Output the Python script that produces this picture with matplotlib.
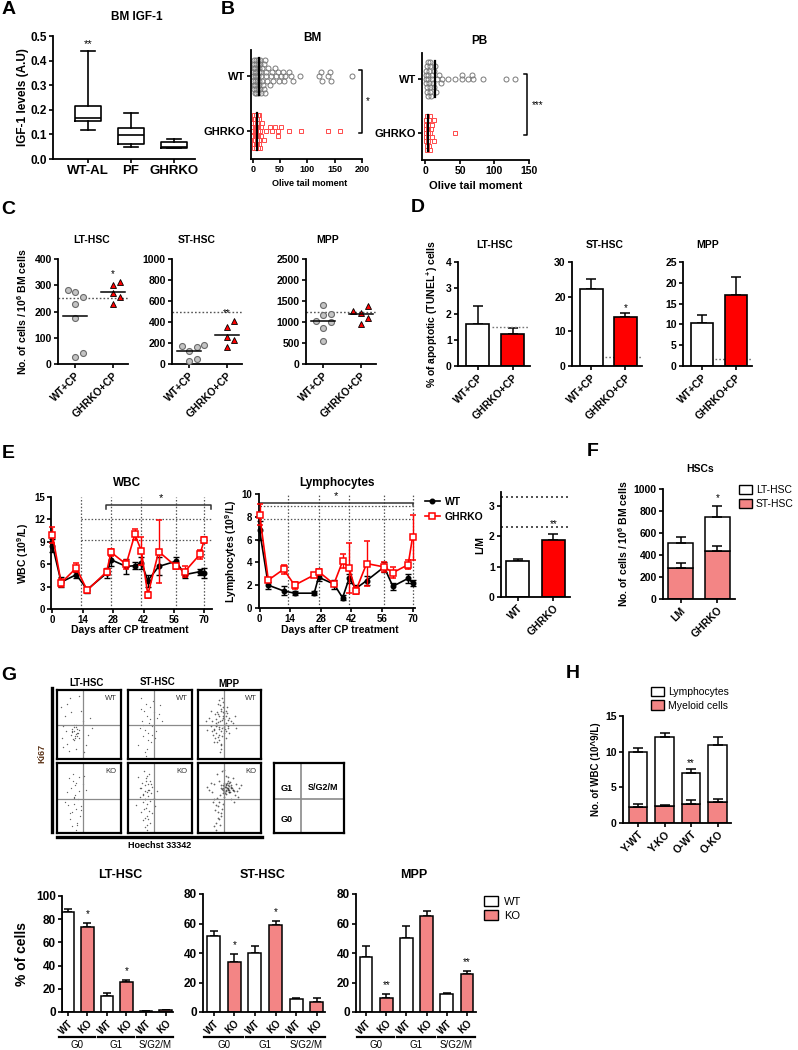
"""
GHRKO haematopoietic stem cell figure (panels A-H)
"""
import numpy as np
import matplotlib
matplotlib.use("Agg")
import matplotlib.pyplot as plt
import matplotlib.transforms as mtrans
from matplotlib.lines import Line2D
from matplotlib.patches import Patch

plt.rcParams["font.family"] = ["Liberation Sans", "DejaVu Sans"]
plt.rcParams["font.weight"] = "bold"
plt.rcParams["axes.labelweight"] = "bold"
plt.rcParams["mathtext.fontset"] = "custom"
plt.rcParams["mathtext.rm"] = "Liberation Sans:bold"
plt.rcParams["mathtext.bf"] = "Liberation Sans:bold"
plt.rcParams["mathtext.it"] = "Liberation Sans:italic"
plt.rcParams["axes.linewidth"] = 1.3

RED = "#ff0000"
SALMON = "#f38585"

# ── A: BM IGF-1 (box stats) ─────────────────────────
A_GROUPS = ["WT-AL", "PF", "GHRKO"]
A_MIN = [0.117, 0.049, 0.044]
A_Q1 = [0.155, 0.060, 0.046]
A_MED = [0.165, 0.097, 0.048]
A_Q3 = [0.215, 0.128, 0.068]
A_MAX = [0.440, 0.188, 0.083]

# ── B: comet assay olive tail moment ─────────────────
BM_WT = [0.5, 1, 1.5, 2, 2, 2.5, 3, 3, 3.5, 4, 4, 4.5, 5, 5, 5.5, 6, 6, 6.5, 7, 7,
         7.5, 8, 8.5, 9, 9, 9.5, 10, 10.5, 11, 11, 12, 12.5, 13, 13.5, 14, 15, 15.5,
         16, 17, 18, 19, 20, 21, 22, 23, 24, 25, 27, 29, 31, 33, 36, 38, 40, 43, 46,
         48, 52, 55, 58, 60, 67, 70, 73, 86, 122, 125, 127, 138, 141, 144, 182]
BM_KO = [0.5, 1, 1, 1.5, 2, 2, 2.5, 3, 3, 3.5, 4, 4, 4.5, 5, 5, 5.5, 6, 6, 6.5, 7, 7,
         7.5, 8, 8, 8.5, 9, 9, 9.5, 10, 10, 10.5, 11, 11.5, 12, 12, 13, 14, 15, 16, 18,
         20, 25, 31, 35, 40, 46, 46, 52, 67, 89, 138, 159]
PB_WT = [0.5, 1, 1, 1.5, 2, 2, 2.5, 3, 3, 4, 4, 5, 5, 6, 6, 7, 7, 8, 9, 10, 11, 12,
         13, 14, 15, 17, 19, 22, 24, 33, 43, 53, 53, 62, 67, 69, 84, 117, 129]
PB_KO = [0.5, 0.5, 1, 1, 1.5, 1.5, 2, 2, 2.5, 3, 3, 3.5, 4, 4, 5, 5, 6, 6, 7, 8, 9,
         10, 12, 13, 43]
B_MEDIAN = {"BM": [8, 12], "PB": [3, 14]}   # [GHRKO, WT]

# ── C: cell numbers after CP ─────────────────────────
C_TITLES = ["LT-HSC", "ST-HSC", "MPP"]
C_WT = [[282, 274, 256, 229, 175, 25, 42],
        [165, 178, 127, 175, 32, 48],
        [1413, 992, 1175, 1198, 857, 540, 1032]]
C_KO = [[302, 311, 270, 254, 230],
        [352, 406, 257, 225, 162],
        [1270, 1214, 1389, 952, 1095]]
C_REF = [250, 500, 1250]
C_YMAX = [400, 1000, 2500]
C_STEP = [100, 200, 500]
C_STARS = ["*", "**", ""]

# ── D: apoptosis (TUNEL+) ────────────────────────────
D_WT = [1.63, 22.3, 10.4]
D_WT_ERR = [0.67, 2.8, 1.8]
D_KO = [1.22, 14.1, 17.1]
D_KO_ERR = [0.25, 1.1, 4.3]
D_REF = [1.5, 2.5, 1.8]
D_YMAX = [4, 30, 25]
D_STEP = [1, 10, 5]
D_STARS = ["", "*", ""]

# ── E: blood counts after CP ─────────────────────────
E_DAYS = [0, 4, 11, 16, 25, 27, 34, 38, 41, 44, 49, 57, 61, 68, 70]
WBC_WT = [8.5, 3.6, 4.6, 2.6, 4.8, 6.6, 5.7, 5.8, 6.2, 3.8, 5.7, 6.4, 4.6, 5.0, 4.8]
WBC_WT_ERR = [0.9, 0.7, 0.4, 0.4, 0.7, 0.8, 1.0, 0.5, 0.8, 0.8, 1.2, 0.6, 0.5, 0.4, 0.7]
WBC_KO = [9.9, 3.5, 5.5, 2.5, 5.0, 7.6, 6.0, 10.0, 7.8, 1.9, 7.7, 5.7, 5.0, 7.3, 9.2]
WBC_KO_ERR = [1.1, 0.5, 0.6, 0.3, 0.4, 0.5, 0.6, 0.7, 1.9, 0.4, 4.2, 0.3, 0.7, 0.6, 0.4]
LY_WT = [6.8, 2.0, 1.5, 1.3, 1.3, 2.7, 2.1, 0.9, 2.6, 1.7, 2.4, 3.6, 1.9, 2.6, 2.2]
LY_WT_ERR = [0.8, 0.3, 0.4, 0.2, 0.2, 0.3, 0.4, 0.2, 0.4, 0.3, 0.4, 0.4, 0.3, 0.4, 0.3]
LY_KO = [8.2, 2.45, 3.4, 2.0, 2.9, 3.2, 2.1, 4.1, 3.5, 1.5, 3.9, 3.6, 3.1, 3.8, 6.2]
LY_KO_ERR = [0.9, 0.2, 0.4, 0.3, 0.2, 0.2, 0.2, 0.6, 2.2, 0.3, 2.0, 0.4, 0.5, 0.4, 2.0]
E_VLINES = [13, 27, 41, 57, 70]
WBC_HREF = [12, 9.25]
LY_HREF = [8.95, 7.8]
LM_GROUPS = ["WT", "GHRKO"]
LM_VAL = [1.18, 1.9]
LM_ERR = [0.09, 0.17]
LM_REF = [3.3, 2.3]

# ── F: HSC composition ───────────────────────────────
F_GROUPS = ["LM", "GHRKO"]
F_ST = [280, 435]
F_ST_ERR = [50, 50]
F_TOTAL = [505, 750]
F_TOTAL_ERR = [55, 100]

# ── G: cell cycle (flow dots, 0-100 scale) ──────────
LT_WT_FX = [24, 27, 30, 22, 33, 28, 25, 31, 26, 29, 35, 23, 32, 27, 30, 26, 28, 34, 24, 31,
            12, 8, 15, 40, 45, 18, 55, 10, 38, 20, 16, 48, 30, 6, 14, 42, 22, 52, 9, 35]
LT_WT_FY = [44, 40, 47, 35, 38, 31, 29, 43, 50, 36, 42, 39, 33, 27, 49, 46, 34, 30, 41, 37,
            62, 30, 80, 55, 20, 12, 45, 48, 70, 88, 22, 35, 15, 75, 40, 10, 68, 60, 18, 92]
LT_KO_FX = [25, 30, 22, 35, 28, 18, 33, 26, 40, 15, 29, 24, 36, 20, 31, 27, 45, 12, 34, 23,
            38, 28, 21, 32, 26, 42, 17, 30, 25, 37]
LT_KO_FY = [85, 72, 65, 60, 55, 78, 48, 42, 70, 58, 35, 30, 25, 20, 15, 52, 62, 45, 80, 10,
            38, 68, 28, 12, 50, 82, 40, 5, 75, 33]
ST_WT_FX = [20, 28, 35, 25, 40, 30, 45, 22, 33, 38, 18, 27, 50, 32, 24, 42, 36, 15, 29, 48,
            26, 39, 34, 21, 44, 31, 23, 37, 28, 53]
ST_WT_FY = [88, 80, 75, 70, 68, 62, 60, 55, 52, 48, 45, 42, 78, 38, 33, 30, 25, 20, 15, 65,
            10, 84, 58, 72, 40, 28, 50, 35, 5, 55]
ST_KO_FX = [25, 30, 28, 35, 22, 32, 27, 38, 20, 33, 26, 29, 36, 24, 31, 18, 40, 27, 34, 23,
            30, 12, 42, 28, 25, 33, 21, 37, 29, 26, 32, 24, 35, 30, 27, 19, 36, 28, 31, 23,
            15, 45, 26, 33, 29]
ST_KO_FY = [88, 82, 78, 75, 72, 70, 68, 66, 64, 62, 60, 58, 57, 55, 53, 52, 50, 48, 46, 44,
            42, 40, 38, 36, 34, 32, 30, 28, 25, 22, 20, 18, 15, 12, 8, 65, 70, 74, 62, 56,
            80, 60, 48, 85, 5]
MPP_WT_FX = [30, 35, 40, 38, 33, 28, 42, 45, 36, 31, 26, 39, 44, 48, 34, 29, 37, 41, 32, 25,
             50, 46, 27, 36, 43, 22, 38, 33, 47, 40, 30, 35, 52, 20, 44, 28, 39, 34, 41, 37,
             18, 55, 24, 31, 45, 36, 29, 42, 33, 48, 15, 38, 26, 58, 35, 43, 30, 21, 40, 34,
             60, 12, 46, 32, 27, 50, 38, 23, 36, 44]
MPP_WT_FY = [50, 55, 60, 45, 62, 48, 58, 52, 40, 65, 42, 68, 63, 57, 35, 38, 70, 47, 53, 44,
             60, 66, 30, 72, 50, 55, 33, 28, 45, 75, 25, 78, 55, 48, 40, 58, 62, 43, 67, 20,
             60, 52, 35, 80, 70, 15, 52, 37, 85, 48, 42, 57, 25, 62, 10, 44, 68, 70, 82, 46,
             45, 55, 75, 32, 65, 38, 88, 40, 22, 30]
MPP_KO_FX = [40, 45, 50, 42, 47, 52, 38, 44, 49, 55, 41, 46, 51, 43, 48, 53, 39, 45, 50, 36,
             54, 42, 47, 44, 57, 40, 49, 46, 51, 43, 37, 52, 45, 48, 41, 56, 44, 50, 39, 47,
             30, 34, 28, 38, 32, 36, 25, 40, 33, 29, 35, 31, 27, 37, 42, 26, 22, 60, 62, 58,
             20, 65, 55, 48, 30, 18, 52, 64, 24, 45, 33, 38, 28, 57, 35, 15, 68, 41, 31, 26]
MPP_KO_FY = [64, 66, 62, 60, 68, 65, 63, 70, 67, 61, 58, 72, 59, 66, 63, 69, 61, 56, 71, 65,
             64, 67, 74, 62, 60, 69, 58, 65, 73, 57, 68, 66, 60, 64, 72, 62, 68, 58, 57, 61,
             50, 45, 40, 35, 30, 25, 48, 42, 20, 15, 55, 38, 33, 28, 52, 10, 58, 70, 60, 55,
             72, 65, 78, 80, 85, 62, 48, 52, 44, 82, 75, 88, 5, 45, 12, 66, 68, 90, 22, 70]

# ── G: cell cycle bars ───────────────────────────────
G_PHASES = ["G0", "G1", "S/G2/M"]
G_LT_WT = [86, 14, 0.5]
G_LT_WT_ERR = [2.5, 2.0, 0.2]
G_LT_KO = [73.5, 25.5, 1.3]
G_LT_KO_ERR = [3.5, 2.5, 0.7]
G_ST_WT = [51.5, 40, 8.5]
G_ST_WT_ERR = [3.5, 4.5, 1.0]
G_ST_KO = [34, 59, 7]
G_ST_KO_ERR = [5.5, 2.5, 2.7]
G_MPP_WT = [37.5, 50.5, 12]
G_MPP_WT_ERR = [7.5, 7.5, 0.6]
G_MPP_KO = [9.5, 65, 25.5]
G_MPP_KO_ERR = [2.5, 3.5, 2.5]

# ── H: WBC composition ──────────────────────────────
H_GROUPS = ["Y-WT", "Y-KO", "O-WT", "O-KO"]
H_TOTAL = [10.0, 12.0, 7.0, 11.0]
H_TOTAL_ERR = [0.5, 0.6, 0.6, 1.0]
H_MYEL = [2.3, 2.35, 2.7, 3.0]
H_MYEL_ERR = [0.3, 0.15, 0.5, 0.3]

W, H = 798, 1050
fig = plt.figure(figsize=(W / 100, H / 100), dpi=100)


# ── helpers ─────────────────────────────────────────
def axpx(x0, y0, x1, y1):
    return fig.add_axes([x0 / W, 1 - y1 / H, (x1 - x0) / W, (y1 - y0) / H])


def ftext(x, y, s, **kw):
    kw.setdefault("ha", "center")
    kw.setdefault("va", "center")
    fig.text(x / W, 1 - y / H, s, **kw)


def fline(xs, ys, **kw):
    fig.add_artist(Line2D([x / W for x in xs], [1 - y / H for y in ys],
                          transform=fig.transFigure, color="k", **kw))


def prism(ax, fs=7):
    for s in ("top", "right"):
        ax.spines[s].set_visible(False)
    ax.tick_params(direction="out", length=3, width=1.2, labelsize=fs, pad=1.5)


def up_err(ax, x, y, e, cap=3, zorder=3):
    ax.errorbar(x, y, yerr=[np.zeros(len(e)), e], fmt="none", ecolor="k",
                elinewidth=1.1, capsize=cap, capthick=1.1, zorder=zorder)


def swarm(ax, vals, center, diam, horizontal=False, band=None):
    """beeswarm offsets (data units on the category axis)"""
    vals = np.asarray(vals, float)
    T = ax.transData
    if horizontal:
        pv = T.transform(np.c_[vals, np.full(len(vals), center)])[:, 0]
        unit = T.transform([[0, center + 1]])[0, 1] - T.transform([[0, center]])[0, 1]
    else:
        pv = T.transform(np.c_[np.full(len(vals), center), vals])[:, 1]
        unit = T.transform([[center + 1, 0]])[0, 0] - T.transform([[center, 0]])[0, 0]
    cands = [0]
    for k in range(1, 30):
        cands += [k, -k]
    cands = [c * diam for c in cands if band is None or abs(c * diam) <= band]
    placed, off = [], np.zeros(len(vals))
    for i in np.argsort(vals):
        best, bestd = cands[0], -1
        for o in cands:
            d = min([np.hypot(pv[i] - p, o - q) for p, q in placed] or [1e9])
            if d >= diam:
                best = o
                break
            if d > bestd:
                best, bestd = o, d
        placed.append((pv[i], best))
        off[i] = best
    return center + off / unit


def star(ax, x, y, s, fs=7):
    ax.text(x, y, s, ha="center", va="center", fontsize=fs, fontweight="normal")


# ── panel letters ───────────────────────────────────
for lab, x, y in [("A", 9, 9), ("B", 228, 9), ("C", 8, 210), ("D", 418, 208),
                  ("E", 8, 454), ("F", 593, 452), ("G", 9, 675), ("H", 573, 674)]:
    ftext(x, y, lab, fontsize=14)

# ── A ───────────────────────────────────────────────
ax = axpx(53, 36, 195, 159)
stats = [dict(whislo=a, q1=b, med=c, q3=d, whishi=e, label=g)
         for a, b, c, d, e, g in zip(A_MIN, A_Q1, A_MED, A_Q3, A_MAX, A_GROUPS)]
lp = dict(color="k", lw=1.2)
ax.bxp(stats, positions=[1, 2, 3], widths=0.62, capwidths=0.31, showfliers=False,
       boxprops=lp, whiskerprops=lp, capprops=lp, medianprops=lp)
ax.set_xlim(0.19, 3.49)
ax.set_ylim(0, 0.5)
ax.set_yticks(np.arange(0, 0.51, 0.1))
ax.set_yticklabels([f"{v:.1f}" for v in np.arange(0, 0.51, 0.1)])
prism(ax, 8.5)
ax.tick_params(axis="x", labelsize=9.5)
ax.set_ylabel("IGF-1 levels (A.U)", fontsize=8.5, labelpad=1)
star(ax, 1, 0.468, "**", 8)
ftext(137, 17, "BM IGF-1", fontsize=8.5)

# ── B ───────────────────────────────────────────────
for name, box, xlim, xt, wt, ko, br, fsx in [
        ("BM", (251, 50, 362, 159), (-3, 200), [0, 50, 100, 150, 200], BM_WT, BM_KO,
         (200, 1.11, -0.02, 211, "*"), 6.5),
        ("PB", (422, 53, 529, 160), (-5, 150), [0, 50, 100, 150], PB_WT, PB_KO,
         (147, 1.09, -0.04, 162, "***"), 7.5)]:
    ax = axpx(*box)
    ax.set_xlim(*xlim)
    ax.set_ylim(-0.5, 1.48)
    prism(ax, fsx)
    ax.set_xticks(xt)
    ax.set_yticks([0, 1])
    ax.set_yticklabels(["GHRKO", "WT"], fontsize=8)
    yw = swarm(ax, wt, 1, 4.2, horizontal=True, band=17)
    yk = swarm(ax, ko, 0, 4.2, horizontal=True, band=17)
    ax.plot(wt, yw, "o", ms=3.6, mfc="none", mec="#7a7a7a", mew=0.7, clip_on=False)
    ax.plot(ko, yk, "s", ms=3.4, mfc="none", mec="#ff4a4a", mew=0.7, clip_on=False)
    for yc, m in zip([0, 1], B_MEDIAN[name]):
        ax.plot([m, m], [yc - 0.33, yc + 0.33], color="k", lw=1.6, zorder=4)
    bx, y1, y0, sx, s = br
    tick = (xlim[1] - xlim[0]) * 0.03
    ax.plot([bx - tick, bx, bx, bx - tick], [y1, y1, y0, y0], color="k", lw=1.1,
            clip_on=False)
    ax.text(sx, (y1 + y0) / 2, s, ha="center", va="center", fontsize=7,
            fontweight="normal", clip_on=False)
ftext(312, 38, "BM", fontsize=8.5)
ftext(479, 41, "PB", fontsize=8.5)
ftext(310, 183, "Olive tail moment", fontsize=6.5)
ftext(476, 186, "Olive tail moment", fontsize=8)

# ── C ───────────────────────────────────────────────
C_BOX = [(58, 259, 128, 364), (172, 259, 242, 364), (306, 259, 376, 364)]
C_TX = [92, 197, 328]
for i in range(3):
    ax = axpx(*C_BOX[i])
    ax.set_xlim(-0.45, 1.4)
    ax.set_ylim(0, C_YMAX[i])
    prism(ax, 7.5)
    ax.set_yticks(np.arange(0, C_YMAX[i] + 1, C_STEP[i]))
    ax.set_xticks([0, 1])
    ax.set_xticklabels(["WT+CP", "GHRKO+CP"], rotation=45, ha="right",
                       rotation_mode="anchor", fontsize=7.5)
    ax.axhline(C_REF[i], ls=(0, (1.2, 1.5)), color="#555", lw=1)
    xw = swarm(ax, C_WT[i], 0, 7.5)
    xk = swarm(ax, C_KO[i], 1, 7.5)
    ax.plot(xw, C_WT[i], "o", ms=4.3, mfc="#c4c4c4", mec="#6a6a6a", mew=0.8,
            clip_on=False, zorder=3)
    ax.plot(xk, C_KO[i], "^", ms=5, mfc=RED, mec="k", mew=0.6, clip_on=False, zorder=3)
    for xc, v in zip([0, 1], [C_WT[i], C_KO[i]]):
        ax.plot([xc - 0.31, xc + 0.31], [np.mean(v)] * 2, color="k", lw=1.1, zorder=4)
    if C_STARS[i]:
        star(ax, 1, max(C_KO[i]) + C_YMAX[i] * 0.08, C_STARS[i])
    ftext(C_TX[i], 240, C_TITLES[i], fontsize=7.5)
    if i == 0:
        ax.set_ylabel(r"No. of cells / 10$^{\mathbf{6}}$ BM cells", fontsize=7.5,
                      labelpad=4)

# ── D ───────────────────────────────────────────────
D_BOX = [(458, 262, 530, 366), (572, 262, 642, 366), (683, 262, 752, 366)]
D_TX = [495, 605, 708]
for i in range(3):
    ax = axpx(*D_BOX[i])
    ax.set_xlim(-0.57, 1.49)
    ax.set_ylim(0, D_YMAX[i])
    prism(ax, 7.5)
    ax.set_yticks(np.arange(0, D_YMAX[i] + 0.1, D_STEP[i]))
    ax.bar([0, 1], [D_WT[i], D_KO[i]], width=0.66, color=["white", RED],
           edgecolor="k", lw=1.2, zorder=2)
    up_err(ax, [0, 1], [D_WT[i], D_KO[i]], [D_WT_ERR[i], D_KO_ERR[i]], cap=3.5, zorder=1)
    ax.hlines(D_REF[i], 0.4, 1.49, linestyles=(0, (1.2, 1.5)), color="#777", lw=1,
              zorder=1)
    ax.set_xticks([0, 1])
    ax.set_xticklabels(["WT+CP", "GHRKO+CP"], rotation=45, ha="right",
                       rotation_mode="anchor", fontsize=7.5)
    if D_STARS[i]:
        star(ax, 1, D_KO[i] + D_KO_ERR[i] + D_YMAX[i] * 0.05, D_STARS[i])
    ftext(D_TX[i], 245, C_TITLES[i], fontsize=7.5)
    if i == 0:
        ax.set_ylabel(r"% of apoptotic (TUNEL$^{\mathbf{+}}$) cells", fontsize=7.5,
                      labelpad=4)

# ── E: line plots ───────────────────────────────────
for box, xlim, ymax, ystep, wt, wte, ko, koe, href, hx0, br, title, tx, ylab in [
        ((51.4, 497, 212, 609), (-0.5, 73.6), 15, 3, WBC_WT, WBC_WT_ERR, WBC_KO,
         WBC_KO_ERR, WBC_HREF, 13, (24.7, 73.3, 13.9, 13.4, 50, 14.9), "WBC", 127,
         r"WBC (10$^{\mathbf{9}}$/L)"),
        ((258.5, 494, 414.7, 608), (-0.5, 71), 10, 2, LY_WT, LY_WT_ERR, LY_KO,
         LY_KO_ERR, LY_HREF, 0, (0.3, 70, 9.2, 9.0, 35, 9.85), "Lymphocytes", 337,
         r"Lymphocytes (10$^{\mathbf{9}}$/L)")]:
    ax = axpx(*box)
    ax.set_xlim(*xlim)
    ax.set_ylim(0, ymax)
    prism(ax, 7)
    ax.tick_params(axis="x", pad=1)
    ax.set_xticks([0, 14, 28, 42, 56, 70])
    ax.set_yticks(np.arange(0, ymax + 0.1, ystep))
    for d in E_VLINES:
        ax.axvline(d, ls=(0, (1.2, 1.5)), color="#555", lw=0.9, zorder=1)
    for h in href:
        ax.hlines(h, hx0, xlim[1], linestyles=(0, (1.2, 1.5)), color="#555", lw=0.9,
                  zorder=1)
    ax.errorbar(E_DAYS, wt, yerr=wte, color="k", lw=1.2, marker="o", ms=3.3,
                capsize=2, elinewidth=1, capthick=1, zorder=3, clip_on=False)
    ax.errorbar(E_DAYS, ko, yerr=koe, color=RED, lw=1.2, marker="s", ms=4.3,
                mfc="white", mec=RED, mew=1.1, capsize=2, elinewidth=1, capthick=1,
                zorder=4, clip_on=False)
    x0, x1, yb, ye, sx, sy = br
    ax.plot([x0, x0, x1, x1], [ye, yb, yb, ye], color="#333", lw=1.1, clip_on=False)
    star(ax, sx, sy, "*", 8)
    ax.set_ylabel(ylab, fontsize=7.5, labelpad=2)
    ftext(tx, 483, title, fontsize=8.5)
    ftext(tx + 3, 630, "Days after CP treatment", fontsize=7.5)

h_wt = Line2D([], [], color="k", lw=1.2, marker="o", ms=3.3)
h_ko = Line2D([], [], color=RED, lw=1.2, marker="s", ms=4.3, mfc="white", mew=1.1)
fig.legend([h_wt, h_ko], ["WT", "GHRKO"], loc="upper left",
           bbox_to_anchor=(425 / W, 1 - 497 / H), frameon=False, fontsize=7.5,
           handlelength=1.4, handletextpad=0.5, labelspacing=0.45, borderpad=0,
           borderaxespad=0)

# L/M ratio
ax = axpx(501, 492, 570, 597)
ax.set_xlim(-0.47, 1.47)
ax.set_ylim(0, 3.47)
prism(ax, 7.5)
ax.set_yticks([0, 1, 2, 3])
ax.bar([0, 1], LM_VAL, width=0.65, color=["white", RED], edgecolor="k", lw=1.2, zorder=2)
up_err(ax, [0, 1], LM_VAL, LM_ERR, cap=3.5, zorder=1)
for r in LM_REF:
    ax.axhline(r, ls=(0, (1.2, 1.8)), color="#333", lw=1.2, zorder=1)
star(ax, 1, 2.42, "**")
ax.set_xticks([0, 1])
ax.set_xticklabels(LM_GROUPS, rotation=45, ha="right", rotation_mode="anchor",
                   fontsize=7.5)
ax.set_ylabel("L/M", fontsize=7.5, labelpad=3)

# ── F ───────────────────────────────────────────────
ax = axpx(663, 489, 735, 599)
ax.set_xlim(-0.48, 1.48)
ax.set_ylim(0, 1000)
prism(ax, 7.5)
ax.set_yticks(np.arange(0, 1001, 200))
lt = [t - s for t, s in zip(F_TOTAL, F_ST)]
ax.bar([0, 1], F_ST, width=0.68, color=SALMON, edgecolor="k", lw=1.1, zorder=2)
ax.bar([0, 1], lt, bottom=F_ST, width=0.68, color="white", edgecolor="k", lw=1.1,
       zorder=2)
up_err(ax, [0, 1], F_ST, F_ST_ERR, cap=3.5)
up_err(ax, [0, 1], F_TOTAL, F_TOTAL_ERR, cap=3.5)
star(ax, 1, 915, "*")
ax.set_xticks([0, 1])
ax.set_xticklabels(F_GROUPS, rotation=45, ha="right", rotation_mode="anchor",
                   fontsize=7.5)
ax.set_ylabel(r"No. of cells / 10$^{\mathbf{6}}$ BM cells", fontsize=7.5, labelpad=3)
ftext(700, 469, "HSCs", fontsize=7.5)
fig.legend([Patch(fc="white", ec="k", lw=1), Patch(fc=SALMON, ec="k", lw=1)],
           ["LT-HSC", "ST-HSC"], loc="upper left", bbox_to_anchor=(739 / W, 1 - 485 / H),
           frameon=False, prop=dict(size=7.5, weight="normal"), handlelength=1.2,
           handleheight=1.0, handletextpad=0.4, labelspacing=0.35, borderpad=0,
           borderaxespad=0)

# ── G: flow plots ───────────────────────────────────
FLOWS = [((57, 690, 121, 759), LT_WT_FX, LT_WT_FY, "WT", 1.0),
         ((128, 690, 192, 759), ST_WT_FX, ST_WT_FY, "WT", 0.9),
         ((198, 690, 261, 759), MPP_WT_FX, MPP_WT_FY, "WT", 1.4),
         ((57, 763, 121, 833), LT_KO_FX, LT_KO_FY, "KO", 0.9),
         ((128, 763, 192, 833), ST_KO_FX, ST_KO_FY, "KO", 1.1),
         ((198, 763, 261, 833), MPP_KO_FX, MPP_KO_FY, "KO", 1.6)]
for box, fx, fy, tag, dot in FLOWS:
    ax = axpx(*box)
    ax.set_xlim(0, 100)
    ax.set_ylim(0, 100)
    ax.set_xticks([])
    ax.set_yticks([])
    for s in ax.spines.values():
        s.set_linewidth(1.6)
    ax.axvline(41, color="#8a8a8a", lw=0.9)
    ax.axhline(49, color="#8a8a8a", lw=0.9)
    ax.scatter(fx, fy, s=dot, c="#222", alpha=0.7, lw=0)
    ax.text(93, 93, tag, ha="right", va="top", fontsize=5.5, fontweight="normal",
            color="#333")
ax = axpx(274, 763, 344, 833)
ax.set_xlim(0, 100)
ax.set_ylim(0, 100)
ax.set_xticks([])
ax.set_yticks([])
for s in ax.spines.values():
    s.set_linewidth(1.6)
ax.axvline(39, color="#8a8a8a", lw=1.2)
ax.axhline(48, color="#8a8a8a", lw=1.2)
ax.text(10, 64, "G1", va="center", fontsize=6.5)
ax.text(48, 65, "S/G2/M", va="center", fontsize=6.5)
ax.text(10, 20, "G0", va="center", fontsize=6.5)
ftext(87, 683, "LT-HSC", fontsize=7)
ftext(158, 682, "ST-HSC", fontsize=7)
ftext(229, 684, "MPP", fontsize=7)
ftext(42, 753, "Ki67", fontsize=6.5, rotation=90, color="#5c3317")
fline([52, 52], [688, 832], lw=2.4)
fline([57, 262], [837, 837], lw=2.4)
ftext(160, 846, "Hoechst 33342", fontsize=6.5)

# ── G: cell cycle bars ──────────────────────────────
G_SETS = [((62, 896, 173, 1012), (-0.3, 5.38), 100, "LT-HSC", 120, G_LT_WT, G_LT_WT_ERR,
           G_LT_KO, G_LT_KO_ERR, [("*", 1), ("*", 3)]),
          ((203, 894, 325, 1012), (-0.52, 5.4), 80, "ST-HSC", 263, G_ST_WT, G_ST_WT_ERR,
           G_ST_KO, G_ST_KO_ERR, [("*", 1), ("*", 3)]),
          ((356, 894, 476, 1012), (-0.5, 5.45), 80, "MPP", 414, G_MPP_WT, G_MPP_WT_ERR,
           G_MPP_KO, G_MPP_KO_ERR, [("**", 1), ("**", 5)])]
for box, xlim, ymax, title, tx, wt, wte, ko, koe, stars in G_SETS:
    ax = axpx(*box)
    ax.set_xlim(*xlim)
    ax.set_ylim(0, ymax)
    prism(ax, 8.5)
    ax.set_yticks(np.arange(0, ymax + 1, 20))
    x = np.arange(6)
    vals = [v for p in zip(wt, ko) for v in p]
    errs = [v for p in zip(wte, koe) for v in p]
    ax.bar(x, vals, width=0.63, color=["white", SALMON] * 3, edgecolor="k", lw=1.1,
           zorder=2)
    up_err(ax, x, vals, errs, cap=3, zorder=1)
    for s, k in stars:
        star(ax, k, vals[k] + errs[k] + ymax * 0.075, s)
    ax.set_xticks(x)
    ax.set_xticklabels(["WT", "KO"] * 3, rotation=45, ha="right",
                       rotation_mode="anchor", fontsize=7)
    hpx = box[3] - box[1]
    tr = mtrans.blended_transform_factory(ax.transData, ax.transAxes)
    for k, ph in enumerate(G_PHASES):
        ax.plot([2 * k - 0.45, 2 * k + 1.4], [-(1037 - box[3]) / hpx] * 2, color="k",
                lw=1.6, transform=tr, clip_on=False)
        ax.text(2 * k + 0.475, -(1045 - box[3]) / hpx, ph, transform=tr, ha="center",
                va="center", fontsize=7, fontweight="normal")
    ftext(tx, 875, title, fontsize=9)
    if title == "LT-HSC":
        ax.set_ylabel("% of cells", fontsize=10, labelpad=5)
fig.legend([Patch(fc="white", ec="k", lw=1), Patch(fc=SALMON, ec="k", lw=1)],
           ["WT", "KO"], loc="upper left", bbox_to_anchor=(484 / W, 1 - 896 / H),
           frameon=False, prop=dict(size=8, weight="normal"), handlelength=1.3,
           handleheight=1.0, handletextpad=0.5, labelspacing=0.3, borderpad=0,
           borderaxespad=0)

# ── H ───────────────────────────────────────────────
ax = axpx(623, 716, 731, 823)
ax.set_xlim(-0.57, 3.51)
ax.set_ylim(0, 15)
prism(ax, 7.5)
ax.set_yticks([0, 5, 10, 15])
x = np.arange(4)
lym = [t - m for t, m in zip(H_TOTAL, H_MYEL)]
ax.bar(x, H_MYEL, width=0.69, color=SALMON, edgecolor="k", lw=1.1, zorder=2)
ax.bar(x, lym, bottom=H_MYEL, width=0.69, color="white", edgecolor="k", lw=1.1, zorder=2)
up_err(ax, x, H_MYEL, H_MYEL_ERR, cap=3.5)
up_err(ax, x, H_TOTAL, H_TOTAL_ERR, cap=3.5)
star(ax, 2, 8.4, "**")
ax.set_xticks(x)
ax.set_xticklabels(H_GROUPS, rotation=45, ha="right", rotation_mode="anchor",
                   fontsize=7.5)
ax.set_ylabel("No. of WBC (10^9/L)", fontsize=7, labelpad=3)
fig.legend([Patch(fc="white", ec="k", lw=1), Patch(fc=SALMON, ec="k", lw=1)],
           ["Lymphocytes", "Myeloid cells"], loc="upper left",
           bbox_to_anchor=(651 / W, 1 - 687 / H), frameon=False,
           prop=dict(size=7.5, weight="normal"), handlelength=1.2, handleheight=1.0,
           handletextpad=0.4, labelspacing=0.3, borderpad=0, borderaxespad=0)

fig.savefig("out.png", dpi=100, facecolor="white")
